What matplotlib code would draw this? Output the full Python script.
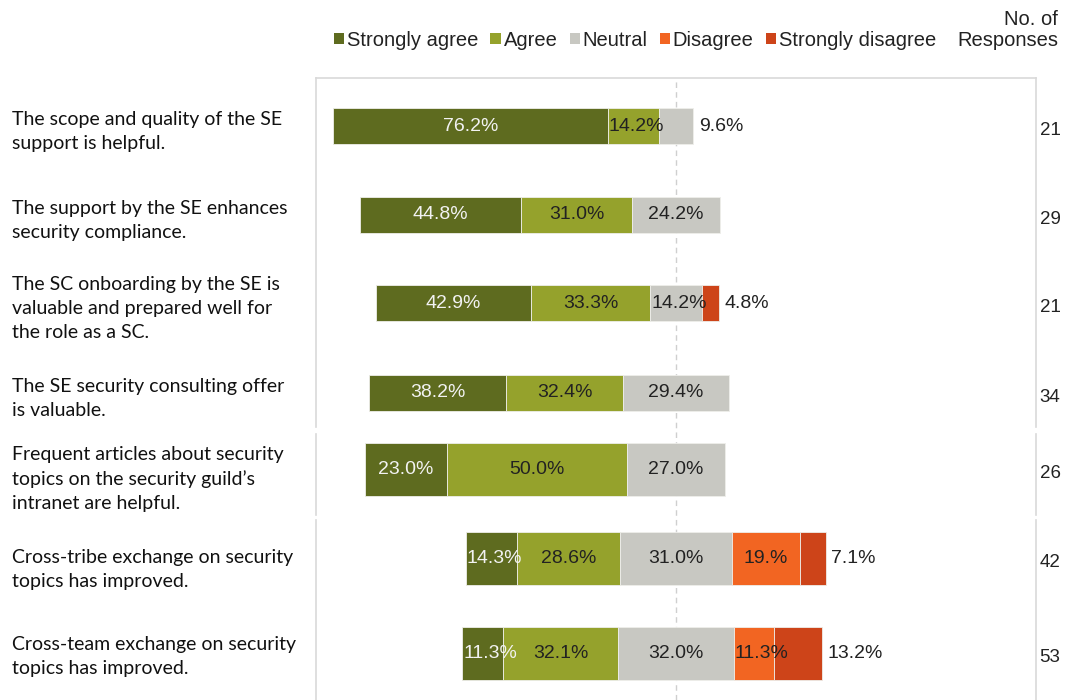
import numpy as np
import matplotlib
matplotlib.use('Agg')
import matplotlib.pyplot as plt
from matplotlib.patches import Patch

# Données
statements = [
    "The scope and quality of the SE\nsupport is helpful.",
    "The support by the SE enhances\nsecurity compliance.",
    "The SC onboarding by the SE is\nvaluable and prepared well for\nthe role as a SC.",
    "The SE security consulting offer\nis valuable.",
    "Frequent articles about security\ntopics on the security guild\u2019s\nintranet are helpful.",
    "Cross-tribe exchange on security\ntopics has improved.",
    "Cross-team exchange on security\ntopics has improved.",
]
categories = ["Strongly agree", "Agree", "Neutral", "Disagree", "Strongly disagree"]
strongly_agree = [76.2, 44.8, 42.9, 38.2, 23.0, 14.3, 11.3]
agree = [14.2, 31.0, 33.3, 32.4, 50.0, 28.6, 32.1]
neutral = [9.6, 24.2, 14.2, 29.4, 27.0, 31.0, 32.0]
disagree = [0, 0, 0, 0, 0, 19.0, 11.3]
strongly_disagree = [0, 0, 4.8, 0, 0, 7.1, 13.2]
responses = [21, 29, 21, 34, 26, 42, 53]
label_override = {(5, 3): "19.%"}  # libellé tel qu'affiché

# Mise en page (positions des lignes, hauteurs)
row_pos = [0, 1.0, 1.996, 3.0, 3.864, 4.86, 5.93]
bar_h = [0.405, 0.405, 0.405, 0.405, 0.596, 0.596, 0.596]
text_pos = [0.06, 0.06, 0.06, 0.06, 0.11, 0.13, 0.04]
colors = ['#5e6b1f', '#95a22c', '#c8c8c2', '#f26522', '#cd4419']
txt_colors = ['#f2f2f2', '#222222', '#222222', '#222222', '#222222']

num_font = 'Liberation Sans'
lab_font = 'Lato'

fig = plt.figure(figsize=(10.67, 7), dpi=100)
ax = fig.add_axes([316 / 1067, 0, 720 / 1067, 1 - 78 / 700])
ax.set_xlim(-100, 100)
ax.set_ylim(6.457, -0.54)
ax.axis('off')
renderer = fig.canvas.get_renderer()
px_per_unit = 720 / 200

data = np.array([strongly_agree, agree, neutral, disagree, strongly_disagree]).T

# Cadre gris clair (en morceaux comme l'original)
frame_c = '#d9d9d9'
ax.plot([-100, 100], [-0.54, -0.54], color=frame_c, lw=1.2, clip_on=False)
for xs in (-100, 100):
    for y0, y1 in [(-0.54, 3.39), (3.46, 4.38), (4.43, 6.46)]:
        ax.plot([xs, xs], [y0, y1], color=frame_c, lw=1.2, clip_on=False)

ax.axvline(0, color='#cfcfcf', lw=1, linestyle=(0, (4, 3)), zorder=0)

for i, row in enumerate(data):
    y = row_pos[i]
    left = -(row[0] + row[1] + row[2] / 2)
    nonzero = [j for j in range(5) if row[j] > 0]
    last = nonzero[-1]
    for j in range(5):
        v = row[j]
        if v <= 0:
            continue
        ax.barh(y, v, left=left, height=bar_h[i], color=colors[j],
                edgecolor='#eeeeea', linewidth=0.6, zorder=2)
        lab = label_override.get((i, j), f"{v:.1f}%")
        t = ax.text(0, y, lab, fontsize=14, family=num_font, va='center', ha='left')
        w = t.get_window_extent(renderer).width / px_per_unit
        if w <= v:
            t.set_x(left + v / 2)
            t.set_ha('center')
            t.set_color(txt_colors[j])
        elif j == last:
            t.set_x(left + v + 1.5)
            t.set_color('#222222')
        else:
            t.set_x(left + 0.3)
            t.set_color(txt_colors[j])
        t.set_zorder(3)
        left += v

# Libellés des affirmations
for i, s in enumerate(statements):
    yfig = ax.transData.transform((0, row_pos[i] + text_pos[i]))[1] / 700
    fig.text(12 / 1067, yfig, s, fontsize=14, family=lab_font, va='center',
             ha='left', color='#111111', linespacing=1.5)

# Nombre de réponses
for i, n in enumerate(responses):
    ax.text(101, row_pos[i] + 0.05, str(n), fontsize=13.5, family=num_font,
            va='center', ha='left', color='#222222', clip_on=False)

fig.text(1058 / 1067, 1 - 30 / 700, "No. of\nResponses", fontsize=14.5,
         family=num_font, ha='right', va='center', color='#222222',
         linespacing=1.15)

handles = [Patch(facecolor=c, edgecolor='none') for c in colors]
fig.legend(handles, categories, loc='center', bbox_to_anchor=(635 / 1067, 1 - 40 / 700),
           ncol=5, frameon=False, prop={'family': num_font, 'size': 14.5},
           handlelength=0.5, handleheight=0.5, handletextpad=0.15,
           columnspacing=0.6, labelcolor='#222222')

fig.savefig('out.png', dpi=100)
